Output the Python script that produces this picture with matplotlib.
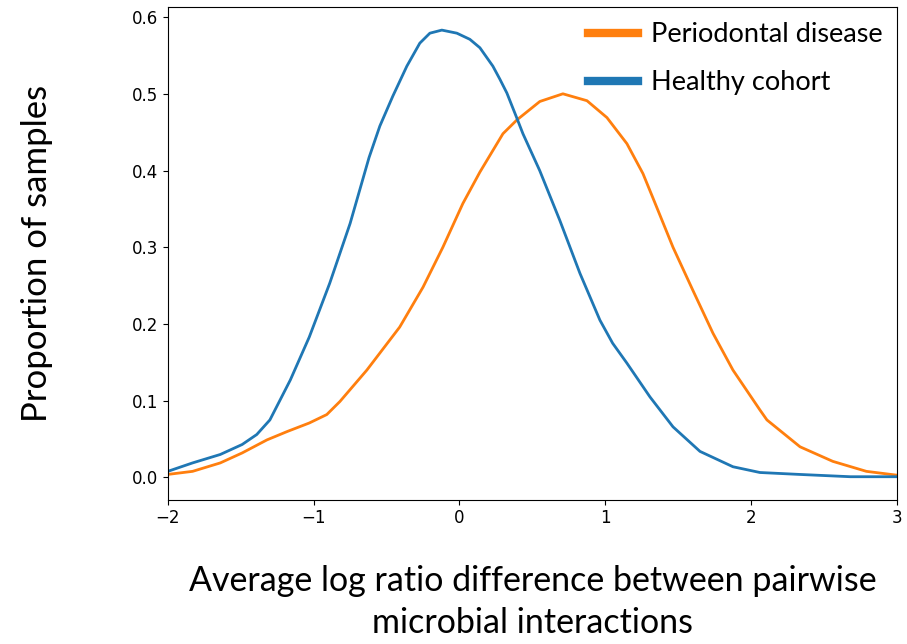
import matplotlib

matplotlib.use("Agg")
import matplotlib.pyplot as plt

# values
healthy_x = [-2.0, -1.83, -1.64, -1.49, -1.39, -1.30, -1.23, -1.16, -1.03, -0.89, -0.75,
             -0.62, -0.546, -0.457, -0.361, -0.272, -0.203, -0.121, -0.018, 0.071, 0.14,
             0.229, 0.277, 0.325, 0.394, 0.435, 0.55, 0.62, 0.688, 0.826, 0.963, 1.05,
             1.148, 1.306, 1.464, 1.649, 1.875, 2.06, 2.33, 2.68, 3.0]
healthy_y = [0.008, 0.019, 0.030, 0.043, 0.056, 0.075, 0.101, 0.127, 0.183, 0.253, 0.331,
             0.417, 0.458, 0.497, 0.536, 0.566, 0.579, 0.583, 0.579, 0.571, 0.560,
             0.536, 0.519, 0.501, 0.468, 0.448, 0.400, 0.367, 0.335, 0.266, 0.205, 0.175,
             0.149, 0.105, 0.066, 0.034, 0.014, 0.0065, 0.004, 0.001, 0.001]

perio_x = [-2.0, -1.83, -1.64, -1.49, -1.32, -1.18, -1.03, -0.91, -0.82, -0.635, -0.41,
           -0.25, -0.114, 0.023, 0.14, 0.257, 0.298, 0.394, 0.551, 0.709, 0.874, 1.011,
           1.148, 1.258, 1.327, 1.464, 1.60, 1.738, 1.875, 2.06, 2.108, 2.335, 2.56,
           2.79, 3.0]
perio_y = [0.004, 0.008, 0.019, 0.032, 0.049, 0.060, 0.071, 0.082, 0.099, 0.140, 0.196,
           0.248, 0.300, 0.357, 0.398, 0.435, 0.448, 0.466, 0.490, 0.500, 0.491, 0.469,
           0.435, 0.396, 0.364, 0.300, 0.244, 0.188, 0.140, 0.088, 0.075, 0.040, 0.021,
           0.008, 0.003]

label_font = ["Lato", "DejaVu Sans"]

fig = plt.figure(figsize=(9.07, 6.44), dpi=100)
ax = fig.add_axes([0.185, 0.224, 0.804, 0.765])

ax.plot(perio_x, perio_y, color="#ff7f0e", linewidth=2, label="Periodontal disease")
ax.plot(healthy_x, healthy_y, color="#1f77b4", linewidth=2, label="Healthy cohort")

ax.set_xlim(-2, 3)
ax.set_ylim(-0.029, 0.613)
ax.set_xticks([-2, -1, 0, 1, 2, 3])
ax.set_yticks([0.0, 0.1, 0.2, 0.3, 0.4, 0.5, 0.6])
ax.tick_params(labelsize=12)

ax.set_xlabel("Average log ratio difference between pairwise\nmicrobial interactions",
              fontsize=24.5, family=label_font, labelpad=27, linespacing=1.4)
ax.set_ylabel("Proportion of samples", fontsize=25, family=label_font, labelpad=57)

leg = ax.legend(loc="upper right", frameon=False, handlelength=1.85, handletextpad=0.45,
                prop={"family": label_font, "size": 19.5}, borderaxespad=0.15,
                labelspacing=0.85)
for line in leg.get_lines():
    line.set_linewidth(6)

fig.savefig("out.png")
